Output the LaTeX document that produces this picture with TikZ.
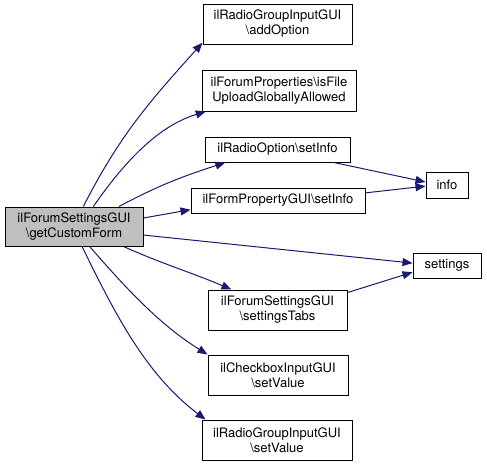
\documentclass[tikz,border=0pt]{standalone}
\usepackage{fontspec}
\setmainfont{TeX Gyre Heros}
\usetikzlibrary{arrows.meta}
\definecolor{edgeblue}{HTML}{191970}
\definecolor{maingray}{HTML}{BFBFBF}
\begin{document}
\begin{tikzpicture}[x=1pt,y=-1pt,
  box/.style={draw=black,line width=1pt,rectangle,inner sep=0pt,align=center,
    font=\fontsize{13}{15}\selectfont},
  edge/.style={draw=edgeblue,line width=1pt,-{Triangle[length=10pt,width=8pt]}}]
\useasboundingbox (0,0) rectangle (487,467);
\node[box,fill=maingray,minimum width=138pt,minimum height=39pt] (main) at (74,226.5) {ilForumSettingsGUI\\\textbackslash getCustomForm};
\node[box,minimum width=149pt,minimum height=40pt] (addopt) at (277.5,24) {ilRadioGroupInputGUI\\\textbackslash addOption};
\node[box,minimum width=154pt,minimum height=41pt] (isfile) at (279,90.5) {ilForumProperties\textbackslash isFile\\UploadGloballyAllowed};
\node[box,minimum width=145pt,minimum height=25pt] (rosi) at (277.5,149.5) {ilRadioOption\textbackslash setInfo};
\node[box,minimum width=174pt,minimum height=25pt] (fpsi) at (278,200.5) {ilFormPropertyGUI\textbackslash setInfo};
\node[box,minimum width=42pt,minimum height=26pt] (info) at (447,185) {info};
\node[box,minimum width=68pt,minimum height=25pt] (settings) at (447,265.5) {settings};
\node[box,minimum width=139pt,minimum height=40pt] (tabs) at (277.5,310) {ilForumSettingsGUI\\\textbackslash settingsTabs};
\node[box,minimum width=140pt,minimum height=40pt] (cbsv) at (278,375) {ilCheckboxInputGUI\\\textbackslash setValue};
\node[box,minimum width=150pt,minimum height=40pt] (rgsv) at (277,440) {ilRadioGroupInputGUI\\\textbackslash setValue};
\draw[edge] (main.65) to[out=63,in=228,looseness=1.0] (addopt.194);
\draw[edge] (main.46) to[out=55,in=197,looseness=0.9] (isfile.196);
\draw[edge] (main.24) to[out=28,in=198] (rosi.194);
\draw[edge] (main.7) -- (fpsi.186);
\draw[edge] (main.-7) -- (settings.176);
\draw[edge] (main.-22) to[out=-24,in=157] (tabs.156);
\draw[edge] (main.-52) to[out=-49,in=148,looseness=0.9] (cbsv.north west);
\draw[edge] (main.-68) to[out=-64,in=143,looseness=0.9] (rgsv.164);
\draw[edge] (rosi.-13) -- (info.172);
\draw[edge] (fpsi.5) -- (info.183);
\draw[edge] (tabs.14) -- (settings.191);
\end{tikzpicture}
\end{document}
